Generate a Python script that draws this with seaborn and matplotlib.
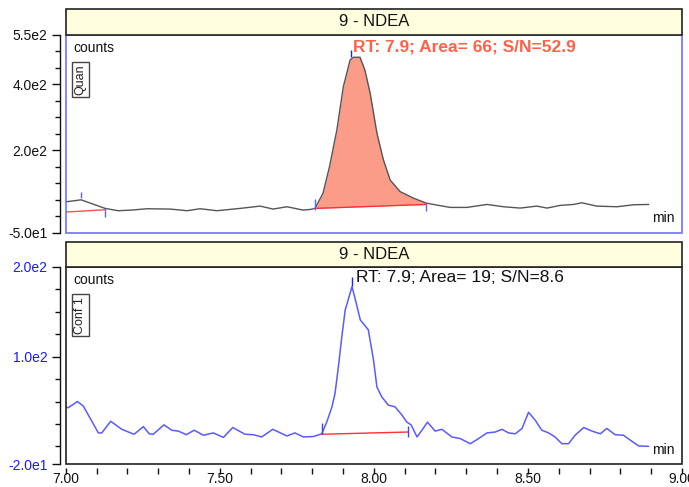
import matplotlib
matplotlib.use("Agg")
import matplotlib.pyplot as plt
import seaborn as sns
import numpy as np
from matplotlib.patches import Rectangle
from matplotlib.ticker import FixedLocator, FixedFormatter, MultipleLocator

sns.set_theme(style="white")
plt.rcParams["font.family"] = ["Liberation Sans", "DejaVu Sans"]

compound_title = "9 - NDEA"

# ---- Quan trace (top panel) ----
quan_time = [7.001, 7.050, 7.089, 7.128, 7.170, 7.215, 7.264, 7.339, 7.394, 7.436,
             7.491, 7.566, 7.631, 7.673, 7.718, 7.770, 7.795, 7.809, 7.835, 7.856,
             7.880, 7.901, 7.923, 7.934, 7.955, 7.971, 7.988, 8.010, 8.031, 8.053,
             8.085, 8.129, 8.170, 8.205, 8.248, 8.302, 8.367, 8.421, 8.475, 8.529,
             8.562, 8.604, 8.648, 8.675, 8.723, 8.789, 8.843, 8.892]
quan_counts = [43, 49, 36, 23, 16, 18, 22, 21, 16, 22,
               16, 23, 30, 21, 28, 18, 20, 23, 69, 149,
               261, 392, 473, 481, 481, 442, 372, 251, 170, 109,
               74, 54, 39, 33, 26, 26, 35, 28, 24, 30,
               24, 32, 35, 40, 30, 28, 34, 35]
quan_peak_bounds = [7.809, 8.170]
quan_peak_baseline = [23, 35]
quan_pre_bounds = [7.001, 7.128]
quan_pre_baseline = [12, 19]
quan_marker_x = [7.050, 7.128, 7.809, 8.170]
quan_marker_lo = [54, -2, 18, 16]
quan_marker_hi = [73, 24, 51, 39]
quan_rt = 7.927
quan_rt_tick = [483, 503]
quan_label = "RT: 7.9; Area= 66; S/N=52.9"
quan_yticks = [550, 400, 200, -50]
quan_yticklabels = ["5.5e2", "4.0e2", "2.0e2", "-5.0e1"]

# ---- Conf 1 trace (bottom panel) ----
conf_time = [7.001, 7.008, 7.038, 7.057, 7.106, 7.117, 7.146, 7.182, 7.222, 7.252,
             7.271, 7.284, 7.319, 7.344, 7.366, 7.391, 7.417, 7.447, 7.479, 7.512,
             7.542, 7.582, 7.609, 7.636, 7.672, 7.718, 7.744, 7.771, 7.804, 7.831,
             7.847, 7.864, 7.874, 7.885, 7.896, 7.907, 7.918, 7.929, 7.939, 7.956,
             7.982, 7.999, 8.010, 8.026, 8.047, 8.069, 8.091, 8.107, 8.121, 8.140,
             8.156, 8.174, 8.199, 8.221, 8.253, 8.280, 8.313, 8.340, 8.367, 8.394,
             8.416, 8.437, 8.459, 8.481, 8.502, 8.524, 8.545, 8.567, 8.588, 8.610,
             8.632, 8.653, 8.681, 8.708, 8.735, 8.756, 8.783, 8.810, 8.832, 8.859,
             8.892]
conf_counts = [44, 43, 50, 45, 15, 15, 28, 19, 13.5, 22,
               14, 13.5, 24, 18, 17, 13, 18, 12.4, 15, 10,
               21, 13.5, 13, 10.5, 19, 11.6, 15, 10.5, 11, 14,
               27, 44, 59, 89, 122, 152, 165, 178, 165, 141,
               130, 96, 66, 55, 46, 44, 35, 27, 24, 10.5,
               18, 27, 17, 19, 10.5, 8.7, 3, 8.7, 15, 16,
               19, 15, 14, 20, 38, 29, 18, 15, 10.5, 3,
               3, 12.4, 21, 17, 14, 20, 13, 12.4, 7, 0.5,
               0]
conf_peak_bounds = [7.831, 8.111]
conf_peak_baseline = [13.5, 16]
conf_marker_x = [7.831, 8.111]
conf_marker_lo = [13.5, 10.5]
conf_marker_hi = [26, 23]
conf_rt = 7.929
conf_rt_tick = [179, 189]
conf_label = "RT: 7.9; Area= 19; S/N=8.6"
conf_yticks = [200, 100, -20]
conf_yticklabels = ["2.0e2", "1.0e2", "-2.0e1"]

xticks = [7.0, 7.5, 8.0, 8.5, 9.0]
xticklabels = ["7.00", "7.50", "8.00", "8.50", "9.00"]

W, H = 689, 487
fig = plt.figure(figsize=(W / 100, H / 100), dpi=100)
fig.patch.set_facecolor("white")

ax1 = fig.add_axes([65.7 / W, 1 - 232.5 / H, (682 - 65.7) / W, 198 / H])
ax2 = fig.add_axes([65.7 / W, 1 - 464.3 / H, (682 - 65.7) / W, 197.3 / H])

# top trace
sns.lineplot(x=quan_time, y=quan_counts, ax=ax1, color="#555555", linewidth=1.0)
qt = np.array(quan_time)
qc = np.array(quan_counts)
m = (qt >= quan_peak_bounds[0]) & (qt <= quan_peak_bounds[1])
base = np.interp(qt[m], quan_peak_bounds, quan_peak_baseline)
ax1.fill_between(qt[m], base, qc[m], color="#FA9C88", linewidth=0, zorder=1)
ax1.plot(quan_peak_bounds, quan_peak_baseline, color="#FF3030", lw=1.0, zorder=3)
ax1.plot(quan_pre_bounds, quan_pre_baseline, color="#FF5050", lw=1.0, zorder=3)
ax1.vlines(quan_marker_x, quan_marker_lo, quan_marker_hi, color="#6060FF", lw=1.0, zorder=4)
ax1.vlines([quan_rt], [quan_rt_tick[0]], [quan_rt_tick[1]], color="#2020FF", lw=1.0, zorder=4)
ax1.text(0.4665, 0.913, quan_label, transform=ax1.transAxes, color="#FF6347",
         fontsize=12.5, fontweight="bold", ha="left", va="baseline")

# bottom trace
sns.lineplot(x=conf_time, y=conf_counts, ax=ax2, color="#5A5AFF", linewidth=1.1)
ax2.plot(conf_peak_bounds, conf_peak_baseline, color="#FF3030", lw=1.0, zorder=3)
ax2.vlines(conf_marker_x, conf_marker_lo, conf_marker_hi, color="#4040FF", lw=1.0, zorder=4)
ax2.vlines([conf_rt], [conf_rt_tick[0]], [conf_rt_tick[1]], color="#2020FF", lw=1.0, zorder=4)
ax2.text(0.471, 0.9255, conf_label, transform=ax2.transAxes, color="#111111",
         fontsize=12.5, ha="left", va="baseline")

panels = [
    (ax1, (-50, 550), quan_yticks, quan_yticklabels, 50, "#111111", "#6F6FFF", "Quan", 0.773, 0.129),
    (ax2, (-20, 200), conf_yticks, conf_yticklabels, 25, "#1A1AFF", "#222222", "Conf 1", 0.755, 0.127),
]
for ax, ylim, yt, ytl, minor, labcol, framecol, tag, tagy, boxh in panels:
    ax.set_xlim(7.0, 9.0)
    ax.set_ylim(*ylim)
    ax.set_xlabel("")
    ax.set_ylabel("")
    ax.set_facecolor("white")
    for s in ["top", "right", "bottom"]:
        ax.spines[s].set_visible(False)
    ax.spines["left"].set_position(("outward", 4))
    ax.spines["left"].set_color("#111111")
    ax.spines["left"].set_linewidth(1.0)
    ax.yaxis.set_major_locator(FixedLocator(yt))
    ax.yaxis.set_major_formatter(FixedFormatter(ytl))
    ax.yaxis.set_minor_locator(MultipleLocator(minor))
    ax.tick_params(axis="y", which="major", left=True, length=6, width=1,
                   color="#111111", labelsize=10, labelcolor=labcol, pad=3)
    ax.tick_params(axis="y", which="minor", left=True, length=3.5, width=1, color="#111111")
    ax.add_patch(Rectangle((0, 0), 1, 1, transform=ax.transAxes, fill=False,
                           edgecolor=framecol, lw=1.2, clip_on=False, zorder=5))
    ax.add_patch(Rectangle((0, 1), 1, boxh, transform=ax.transAxes, facecolor="#FFFFE0",
                           edgecolor="#222222", lw=1.2, clip_on=False, zorder=5))
    ax.text(0.5, 1 + boxh / 2, compound_title, transform=ax.transAxes, ha="center",
            va="center", fontsize=12, color="#111111", zorder=6)
    ax.text(0.012, 0.932, "counts", transform=ax.transAxes, ha="left", va="center",
            fontsize=10, color="#111111")
    ax.text(0.951, 0.072, "min", transform=ax.transAxes, ha="left", va="center",
            fontsize=10, color="#111111")
    ax.text(0.024, tagy, tag, transform=ax.transAxes, rotation=90, ha="center",
            va="center", fontsize=9, color="#222222",
            bbox=dict(boxstyle="square,pad=0.2", facecolor="white", edgecolor="#444444", lw=1))

ax1.tick_params(axis="x", which="both", bottom=False, labelbottom=False)

ax2.spines["bottom"].set_visible(False)
ax2.spines["bottom"].set_position(("outward", 3))
ax2.xaxis.set_major_locator(FixedLocator(xticks))
ax2.xaxis.set_major_formatter(FixedFormatter(xticklabels))
ax2.xaxis.set_minor_locator(MultipleLocator(0.1))
ax2.tick_params(axis="x", which="both", bottom=True, length=4, width=1, color="#111111",
                labelsize=10, labelcolor="#111111", pad=-1.5)

fig.savefig("out.png", dpi=100)
